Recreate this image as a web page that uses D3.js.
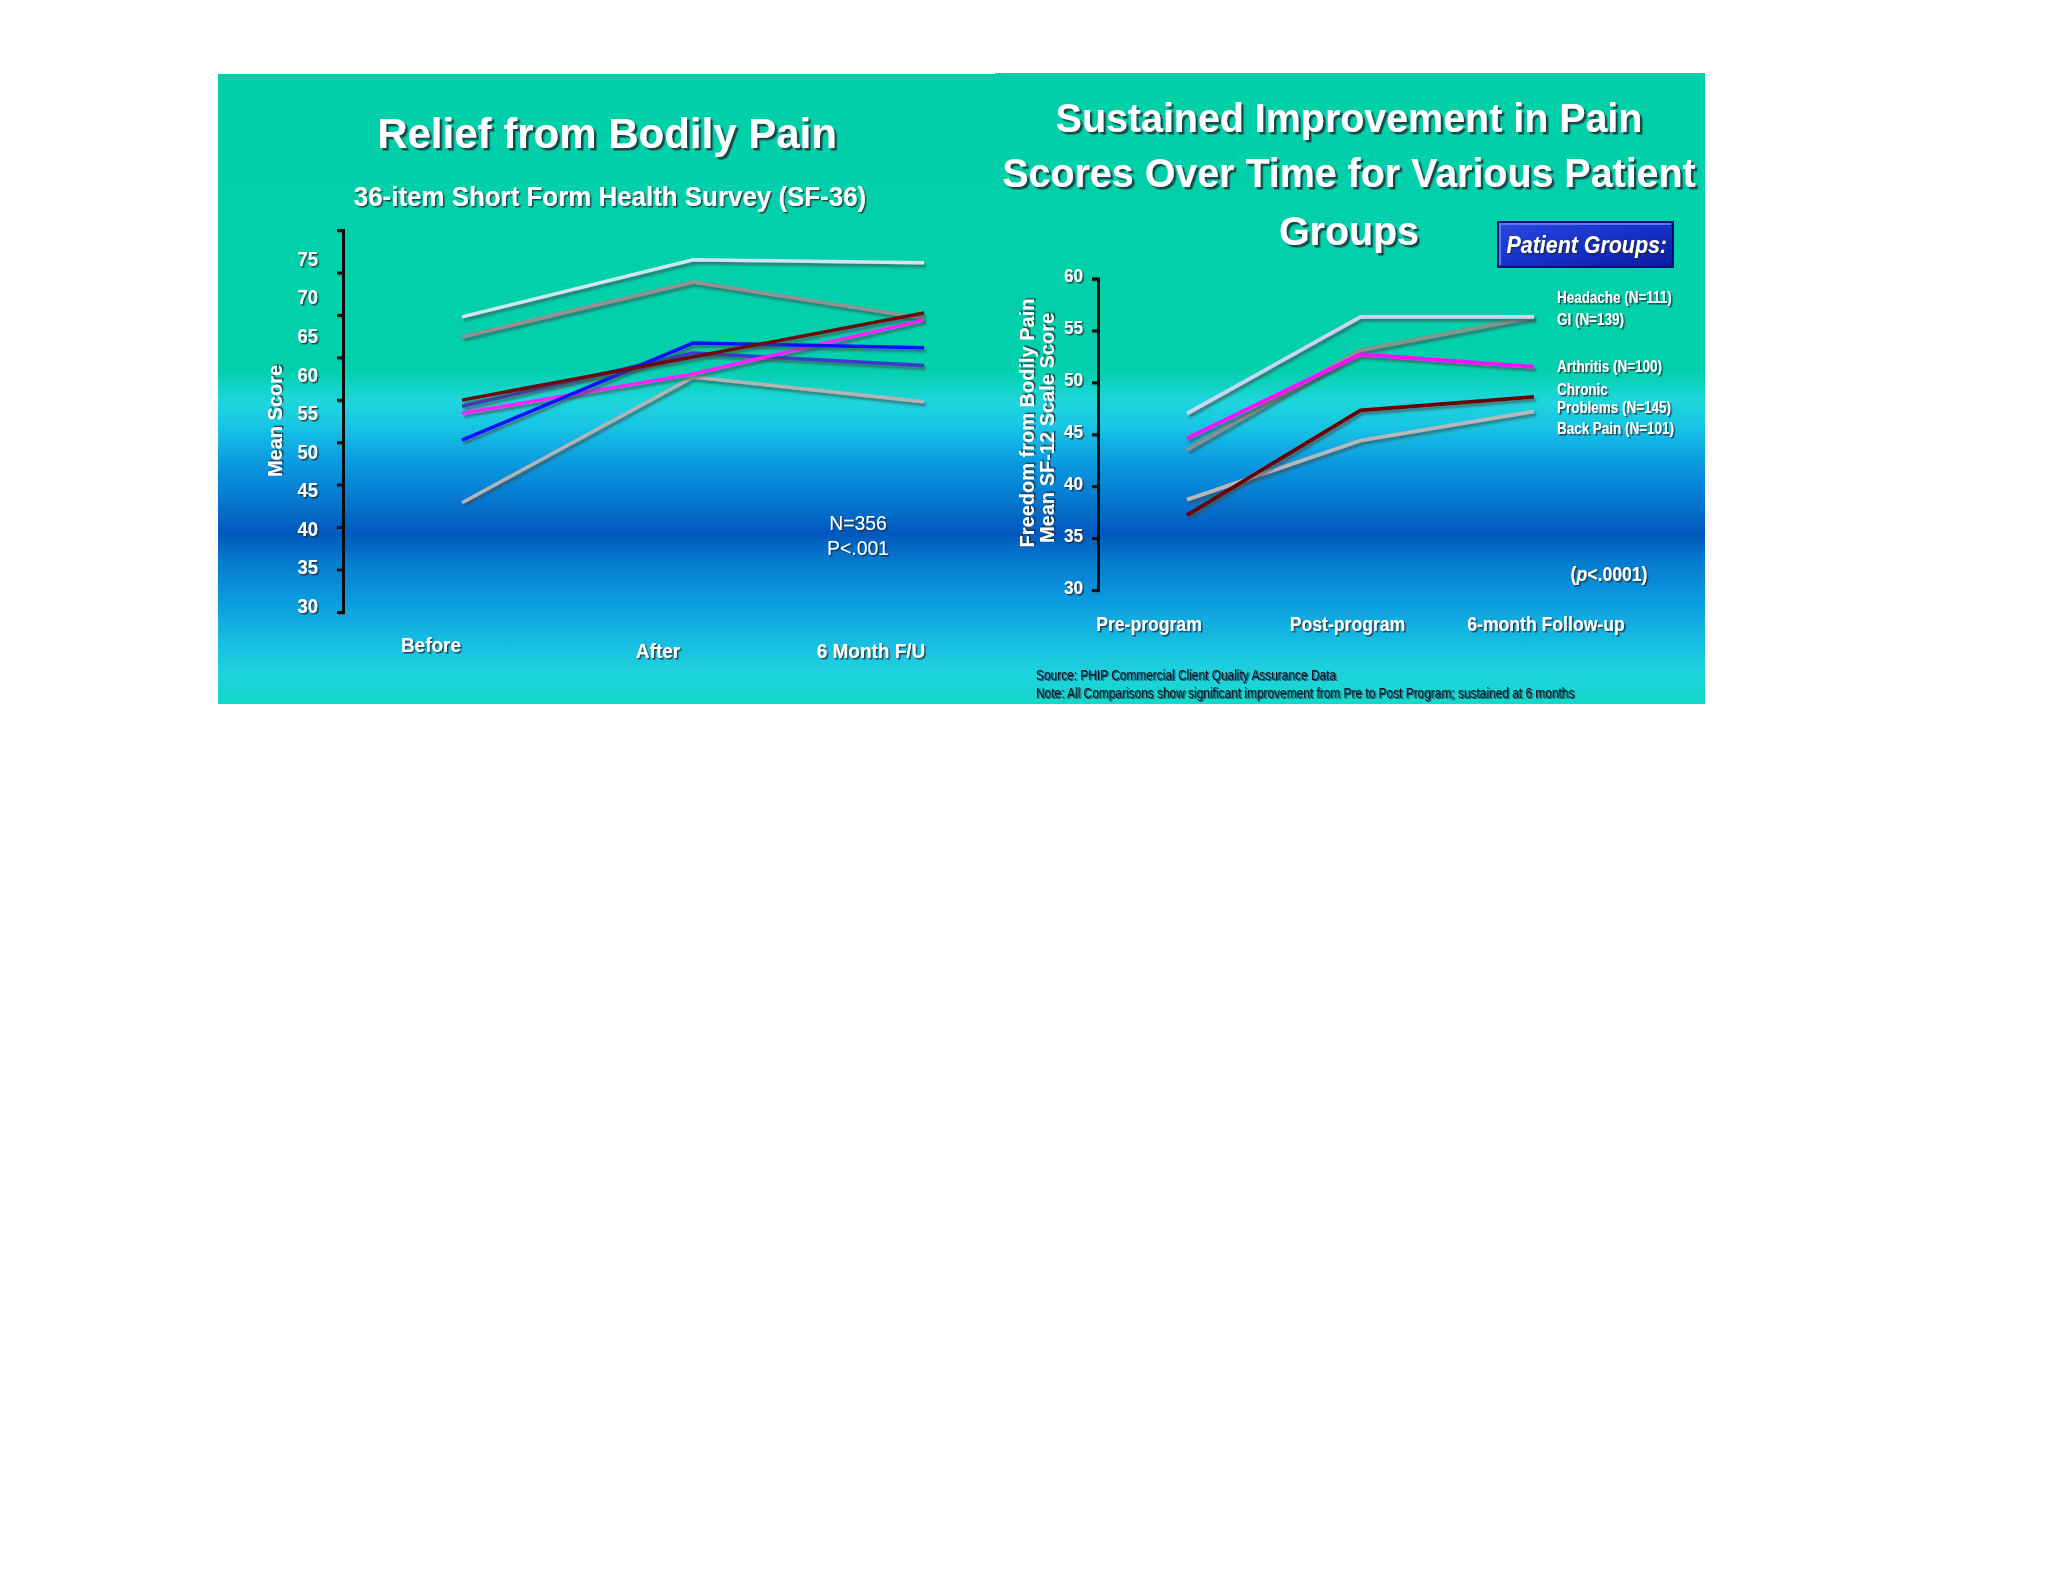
<!DOCTYPE html>
<html>
<head>
<meta charset="utf-8">
<script src="https://cdn.jsdelivr.net/npm/d3@7"></script>
<style>
  body { margin: 0; background: #fff; }
  svg { display: block; font-family: "Liberation Sans", Arial, sans-serif; }
</style>
</head>
<body>
<svg id="chart" width="2048" height="1582"></svg>
<script>
// ---- data: left chart (SF-36 bodily pain), values read against the printed labels
var leftCats = ["Before", "After", "6 Month F/U"];
var leftTicks = [30, 35, 40, 45, 50, 55, 60, 65, 70, 75];
var leftLightBlue = [67.5, 74.9, 74.5];
var leftGray = [64.9, 72.0, 67.3];
var leftBrown = [56.7, 62.3, 68.0];
var leftBlue = [51.5, 64.1, 63.5];
var leftSlate = [55.9, 62.8, 61.2];
var leftMagenta = [55.0, 60.1, 67.1];
var leftSilver = [43.4, 59.7, 56.5];

// ---- data: right chart (SF-12 by patient group)
var rightCats = ["Pre-program", "Post-program", "6-month Follow-up"];
var rightTicks = [30, 35, 40, 45, 50, 55, 60];
var groups = ["Headache (N=111)", "GI (N=139)", "Arthritis (N=100)", "Chronic Problems (N=145)", "Back Pain (N=101)"];
var headache = [47.0, 56.3, 56.3];
var gi = [43.5, 53.1, 56.3];
var arthritis = [44.6, 52.7, 51.5];
var chronic = [37.2, 47.3, 48.6];
var backPain = [38.7, 44.4, 47.2];

var svg = d3.select("#chart");
var defs = svg.append("defs");

// background gradient shared by both slides
var grad = defs.append("linearGradient").attr("id", "bg")
  .attr("gradientUnits", "userSpaceOnUse")
  .attr("x1", 0).attr("y1", 74).attr("x2", 0).attr("y2", 704);
[[0, "#00d0a8"], [0.47, "#02d0ac"], [0.52, "#1ed6dc"], [0.56, "#18c4e4"], [0.62, "#0a98e0"],
 [0.69, "#0470cc"], [0.73, "#0058bc"], [0.77, "#0678cc"], [0.83, "#0a98de"], [0.90, "#16bce2"],
 [0.95, "#1ed2de"], [1, "#14d8c8"]].forEach(function(s) {
  grad.append("stop").attr("offset", s[0]).attr("stop-color", s[1]);
});

var boxGrad = defs.append("linearGradient").attr("id", "box")
  .attr("x1", 0).attr("y1", 0).attr("x2", 1).attr("y2", 1);
boxGrad.append("stop").attr("offset", 0).attr("stop-color", "#2c48e0");
boxGrad.append("stop").attr("offset", 0.5).attr("stop-color", "#1630c8");
boxGrad.append("stop").attr("offset", 1).attr("stop-color", "#0a1ca0");

function shadowFilter(id, dx, dy, blur, color, op) {
  defs.append("filter").attr("id", id)
    .attr("x", "-10%").attr("y", "-20%").attr("width", "130%").attr("height", "160%")
    .append("feDropShadow")
    .attr("dx", dx).attr("dy", dy).attr("stdDeviation", blur)
    .attr("flood-color", color).attr("flood-opacity", op);
}
shadowFilter("tshadow", 2.5, 2.5, 0.6, "#202830", 0.8);
shadowFilter("sshadow", 1.5, 1.5, 0.4, "#202830", 0.8);
shadowFilter("lshadow", 2, 3, 0.8, "#404850", 0.6);
shadowFilter("dshadow", 1.2, 1.2, 0.3, "#506070", 0.7);
shadowFilter("srcshadow", 1.3, 1.0, 0.2, "#1a3050", 0.9);

// condensed look of the slide fonts
function squeeze(sel, k) {
  sel.each(function() {
    var w = this.getComputedTextLength();
    d3.select(this).attr("textLength", w * k).attr("lengthAdjust", "spacingAndGlyphs");
  });
}

svg.append("rect").attr("x", 218).attr("y", 74).attr("width", 777).attr("height", 630).attr("fill", "url(#bg)");
svg.append("rect").attr("x", 995).attr("y", 73).attr("width", 710).attr("height", 631).attr("fill", "url(#bg)");

// ================= LEFT CHART =================
var L = svg.append("g");

L.append("text").attr("x", 607).attr("y", 148).attr("text-anchor", "middle")
  .attr("font-size", 42).attr("font-weight", "bold").attr("fill", "#fff")
  .attr("filter", "url(#tshadow)").text("Relief from Bodily Pain")
  .call(squeeze, 1.0);
L.append("text").attr("x", 610).attr("y", 206).attr("text-anchor", "middle")
  .attr("font-size", 28).attr("font-weight", "bold").attr("fill", "#fff")
  .attr("filter", "url(#sshadow)").text("36-item Short Form Health Survey (SF-36)")
  .call(squeeze, 0.925);

var xL = d3.scalePoint().domain(leftCats).range([462, 924]);
var xLlab = d3.scalePoint().domain(leftCats).range([431, 871]);
var yL = d3.scaleLinear().domain([30, 75]).range([606, 259]);     // printed labels / values
var yLtick = d3.scaleLinear().domain([30, 75]).range([612, 230]); // tick marks of the chart image

// axis lines
L.append("g").attr("transform", "translate(343,0)")
  .call(d3.axisLeft(yLtick).tickValues(leftTicks).tickSize(6).tickFormat(""))
  .call(function(g) {
    g.selectAll("path,line").attr("stroke", "#111").attr("stroke-width", 3);
    g.attr("filter", "url(#dshadow)");
  });
L.append("line").attr("x1", 338).attr("x2", 993).attr("y1", 612).attr("y2", 612)
  .attr("stroke", "#111").attr("stroke-width", 3.5).attr("filter", "url(#dshadow)");

// tick labels
L.append("g").attr("transform", "translate(318,0)")
  .call(d3.axisLeft(yL).tickValues(leftTicks).tickSize(0).tickPadding(0))
  .call(function(g) {
    g.select(".domain").remove();
    g.selectAll("text").attr("font-size", 20).attr("font-weight", "bold")
      .attr("fill", "#fff").attr("font-family", null).attr("filter", "url(#sshadow)")
      .call(squeeze, 0.92);
  });

L.append("text").attr("transform", "translate(282,421) rotate(-90)")
  .attr("text-anchor", "middle").attr("font-size", 20).attr("font-weight", "bold")
  .attr("fill", "#fff").attr("filter", "url(#sshadow)").text("Mean Score");

// category labels
L.selectAll(".xlab").data(leftCats).enter().append("text")
  .attr("x", function(d) { return xLlab(d) + (d === "After" ? 7 : 0); })
  .attr("y", function(d, i) { return i === 0 ? 652 : 658; })
  .attr("text-anchor", "middle").attr("font-size", 20).attr("font-weight", "bold")
  .attr("fill", "#fff").attr("filter", "url(#sshadow)").text(function(d) { return d; })
  .call(squeeze, 0.95);

var leftSeries = [
  { v: leftLightBlue, c: "#cfe6f2" },
  { v: leftGray, c: "#9a8e90" },
  { v: leftSilver, c: "#b4b4b4" },
  { v: leftSlate, c: "#3a3ac8" },
  { v: leftMagenta, c: "#ff22ff" },
  { v: leftBlue, c: "#0a0aff" },
  { v: leftBrown, c: "#6a0808" }
];
var lineL = d3.line().x(function(d, i) { return xL(leftCats[i]); }).y(function(d) { return yL(d); });
L.selectAll(".sl").data(leftSeries).enter().append("path")
  .attr("d", function(d) { return lineL(d.v); })
  .attr("fill", "none").attr("stroke", function(d) { return d.c; })
  .attr("stroke-width", 3.5).attr("filter", "url(#lshadow)");

L.append("text").attr("x", 858).attr("y", 530).attr("text-anchor", "middle")
  .attr("font-size", 21).attr("fill", "#fff").attr("filter", "url(#sshadow)").text("N=356")
  .call(squeeze, 0.92);
L.append("text").attr("x", 858).attr("y", 555).attr("text-anchor", "middle")
  .attr("font-size", 21).attr("fill", "#fff").attr("filter", "url(#sshadow)").text("P<.001")
  .call(squeeze, 0.92);

// ================= RIGHT CHART =================
var R = svg.append("g");
var titleLines = ["Sustained Improvement in Pain", "Scores Over Time for Various Patient", "Groups"];
var titleBase = [132, 187, 245];
R.selectAll(".tt").data(titleLines).enter().append("text")
  .attr("x", 1349).attr("y", function(d, i) { return titleBase[i]; })
  .attr("text-anchor", "middle").attr("font-size", 40).attr("font-weight", "bold")
  .attr("fill", "#fff").attr("filter", "url(#tshadow)").text(function(d) { return d; })
  .call(squeeze, 0.985);

// "Patient Groups:" box
R.append("rect").attr("x", 1498).attr("y", 222).attr("width", 175).attr("height", 45)
  .attr("fill", "url(#box)").attr("stroke", "#061070").attr("stroke-width", 2);
R.append("path").attr("d", "M1500,265V224H1671").attr("fill", "none")
  .attr("stroke", "#5a78f0").attr("stroke-width", 2);
R.append("text").attr("x", 1667).attr("y", 253).attr("text-anchor", "end")
  .attr("font-size", 23).attr("font-weight", "bold").attr("font-style", "italic")
  .attr("fill", "#fff").attr("filter", "url(#sshadow)").text("Patient Groups:")
  .call(squeeze, 0.93);

var xR = d3.scalePoint().domain(rightCats).range([1187, 1534]);
var xRlab = d3.scalePoint().domain(rightCats).range([1149, 1546]);
var yR = d3.scaleLinear().domain([30, 60]).range([590, 278.5]);

R.append("g").attr("transform", "translate(1098,0)")
  .call(d3.axisLeft(yR).tickValues(rightTicks).tickSize(6).tickFormat(""))
  .call(function(g) {
    g.selectAll("path,line").attr("stroke", "#111").attr("stroke-width", 3);
    g.attr("filter", "url(#dshadow)");
  });
R.append("line").attr("x1", 1093).attr("x2", 1587).attr("y1", 590).attr("y2", 590)
  .attr("stroke", "#111").attr("stroke-width", 3.5).attr("filter", "url(#dshadow)");

R.append("g").attr("transform", "translate(1083,-3)")
  .call(d3.axisLeft(yR).tickValues(rightTicks).tickSize(0).tickPadding(0))
  .call(function(g) {
    g.select(".domain").remove();
    g.selectAll("text").attr("font-size", 19).attr("font-weight", "bold")
      .attr("fill", "#fff").attr("font-family", null).attr("filter", "url(#sshadow)")
      .call(squeeze, 0.9);
  });

R.append("text").attr("transform", "translate(1034,423) rotate(-90)")
  .attr("text-anchor", "middle").attr("font-size", 20).attr("font-weight", "bold")
  .attr("fill", "#fff").attr("filter", "url(#sshadow)").text("Freedom from Bodily Pain")
  .call(squeeze, 1.0);
R.append("text").attr("transform", "translate(1054,428) rotate(-90)")
  .attr("text-anchor", "middle").attr("font-size", 20).attr("font-weight", "bold")
  .attr("fill", "#fff").attr("filter", "url(#sshadow)").text("Mean SF-12 Scale Score")
  .call(squeeze, 1.0);

R.selectAll(".xlab").data(rightCats).enter().append("text")
  .attr("x", function(d) { return xRlab(d); }).attr("y", 631)
  .attr("text-anchor", "middle").attr("font-size", 20).attr("font-weight", "bold")
  .attr("fill", "#fff").attr("filter", "url(#sshadow)").text(function(d) { return d; })
  .call(squeeze, 0.88);

var rightSeries = [
  { name: groups[4], v: backPain, c: "#b8b8b8" },
  { name: groups[1], v: gi, c: "#86948a" },
  { name: groups[0], v: headache, c: "#ccd4f2" },
  { name: groups[2], v: arthritis, c: "#ff10ff" },
  { name: groups[3], v: chronic, c: "#6e0404" }
];
var lineR = d3.line().x(function(d, i) { return xR(rightCats[i]); }).y(function(d) { return yR(d); });
R.selectAll(".sr").data(rightSeries).enter().append("path")
  .attr("d", function(d) { return lineR(d.v); })
  .attr("fill", "none").attr("stroke", function(d) { return d.c; })
  .attr("stroke-width", 3.8).attr("filter", "url(#lshadow)");

// group labels beside the line ends
var legendLines = [["Headache (N=111)"], ["GI (N=139)"], ["Arthritis (N=100)"], ["Chronic", "Problems (N=145)"], ["Back Pain (N=101)"]];
var legendBase = [303, 325, 372, 395, 434];
legendLines.forEach(function(lines, i) {
  lines.forEach(function(t, j) {
    R.append("text").attr("x", 1557).attr("y", legendBase[i] + j * 18)
      .attr("font-size", 16).attr("font-weight", "bold").attr("fill", "#fff")
      .attr("filter", "url(#sshadow)").text(t)
      .call(squeeze, 0.84);
  });
});

var pt = R.append("text").attr("x", 1609).attr("y", 581).attr("text-anchor", "middle")
  .attr("font-size", 20).attr("font-weight", "bold").attr("fill", "#fff").attr("filter", "url(#sshadow)");
pt.append("tspan").text("(");
pt.append("tspan").attr("font-style", "italic").text("p");
pt.append("tspan").text("<.0001)");
pt.call(squeeze, 0.88);

R.append("text").attr("x", 1036).attr("y", 680).attr("font-size", 14)
  .attr("fill", "#08121e").attr("filter", "url(#srcshadow)")
  .text("Source: PHIP Commercial Client Quality Assurance Data").call(squeeze, 0.85);
R.append("text").attr("x", 1036).attr("y", 698).attr("font-size", 14)
  .attr("fill", "#08121e").attr("filter", "url(#srcshadow)")
  .text("Note: All Comparisons show significant improvement from Pre to Post Program; sustained at 6 months")
  .call(squeeze, 0.85);
</script>
</body>
</html>
